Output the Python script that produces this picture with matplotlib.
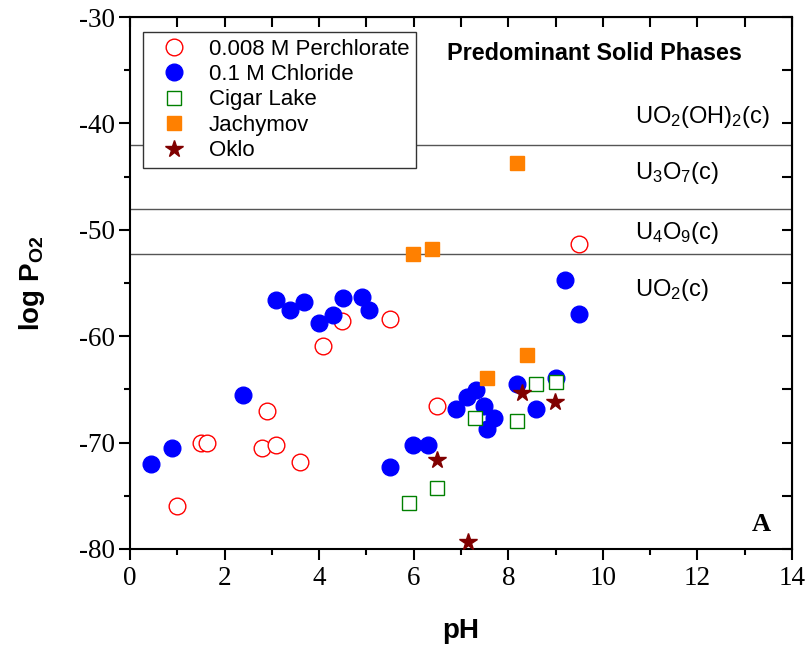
import matplotlib
matplotlib.use("Agg")
import matplotlib.pyplot as plt
from matplotlib.ticker import MultipleLocator

plt.rcParams["mathtext.fontset"] = "custom"
plt.rcParams["mathtext.rm"] = "Liberation Sans"
plt.rcParams["mathtext.it"] = "Liberation Sans:italic"
plt.rcParams["mathtext.bf"] = "Liberation Sans:bold"
plt.rcParams["axes.unicode_minus"] = False

# pH and log P_O2 for each data set
perchlorate_ph = [1.0, 1.5, 1.63, 2.79, 2.89, 3.09, 3.59, 4.09, 4.49, 5.5, 6.49, 9.49]
perchlorate_po2 = [-76.0, -70.0, -70.0, -70.5, -67.0, -70.2, -71.8, -60.9, -58.6, -58.4, -66.6, -51.3]

chloride_ph = [0.44, 0.89, 2.39, 3.09, 3.39, 3.69, 4.0, 4.29, 4.5, 4.9, 5.05, 5.5,
               5.99, 6.31, 6.89, 7.13, 7.31, 7.49, 7.7, 7.54, 8.19, 9.0, 8.59, 9.2, 9.5]
chloride_po2 = [-72.0, -70.5, -65.5, -56.6, -57.5, -56.8, -58.8, -58.0, -56.4, -56.3, -57.5, -72.3,
                -70.2, -70.2, -66.8, -65.7, -65.1, -66.6, -67.7, -68.7, -64.5, -63.9, -66.8, -54.7, -57.9]

cigar_ph = [5.89, 6.5, 7.3, 8.19, 8.59, 9.0]
cigar_po2 = [-75.7, -74.3, -67.7, -68.0, -64.5, -64.3]

jachymov_ph = [8.19, 5.99, 6.39, 8.39, 7.55]
jachymov_po2 = [-43.7, -52.3, -51.8, -61.8, -63.9]

oklo_ph = [6.5, 7.14, 8.29, 8.99]
oklo_po2 = [-71.6, -79.3, -65.3, -66.2]

# Phase boundaries and the solid phase stable in each field
boundaries = [-42.0, -48.0, -52.3]
phase_labels = [r"UO$_2$(OH)$_2$(c)", r"U$_3$O$_7$(c)", r"U$_4$O$_9$(c)", r"UO$_2$(c)"]
phase_label_y = [-39.4, -44.7, -50.3, -55.7]

fig = plt.figure(figsize=(8.06, 6.54), dpi=100)
ax = fig.add_axes([0.1613, 0.1606, 0.8213, 0.8134])

for yb in boundaries:
    ax.axhline(yb, color="#555555", lw=1.0, zorder=1)

ax.plot(perchlorate_ph, perchlorate_po2, ls="none", marker="o", ms=12, mfc="white",
        mec="#ff0000", mew=1.0, label="0.008 M Perchlorate", zorder=3)
ax.plot(chloride_ph, chloride_po2, ls="none", marker="o", ms=12, mfc="#0000ff",
        mec="#0000ff", label="0.1 M Chloride", zorder=3)
ax.plot(cigar_ph, cigar_po2, ls="none", marker="s", ms=10, mfc="white",
        mec="#008000", mew=1.0, label="Cigar Lake", zorder=4)
ax.plot(jachymov_ph, jachymov_po2, ls="none", marker="s", ms=10, mfc="#ff8000",
        mec="#ff8000", label="Jachymov", zorder=4)
ax.plot(oklo_ph, oklo_po2, ls="none", marker="*", ms=13, mfc="#800000",
        mec="#800000", label="Oklo", zorder=5)

ax.set_xlim(0, 14)
ax.set_ylim(-80, -30)
ax.xaxis.set_major_locator(MultipleLocator(2))
ax.xaxis.set_minor_locator(MultipleLocator(1))
ax.yaxis.set_major_locator(MultipleLocator(10))
ax.yaxis.set_minor_locator(MultipleLocator(5))
ax.tick_params(which="major", direction="out", length=8, width=1.5,
               labelsize=19.5)
ax.tick_params(axis="x", which="major", pad=4)
ax.tick_params(axis="y", which="major", pad=3)
ax.tick_params(which="minor", direction="out", length=4, width=1.5)
for lab in ax.get_xticklabels() + ax.get_yticklabels():
    lab.set_fontfamily("Liberation Serif")

for sp in ax.spines.values():
    sp.set_linewidth(1.5)

# mirrored inward ticks on the top and right edges
top = ax.secondary_xaxis("top")
top.xaxis.set_major_locator(MultipleLocator(1))
top.tick_params(direction="in", length=7, width=1.5, labeltop=False)
right = ax.secondary_yaxis("right")
right.yaxis.set_major_locator(MultipleLocator(5))
right.tick_params(direction="in", length=7, width=1.5, labelright=False)

ax.set_xlabel("pH", fontsize=20, fontweight="bold", family="Liberation Sans", labelpad=20)
ax.set_ylabel(r"log P$_{\mathbf{O2}}$", fontsize=20, fontweight="bold",
              family="Liberation Sans", labelpad=23)

ax.text(9.83, -33.4, "Predominant Solid Phases", fontsize=16.8, fontweight="bold",
        family="Liberation Sans", ha="center", va="center")
for lbl, yy in zip(phase_labels, phase_label_y):
    ax.text(10.68, yy, lbl, fontsize=17, family="Liberation Sans", ha="left", va="center")

ax.text(13.36, -77.7, "A", fontsize=19, fontweight="bold", family="Liberation Serif",
        ha="center", va="center")

leg = ax.legend(loc="upper left", bbox_to_anchor=(0.0196, 0.972), frameon=True,
                fancybox=False, edgecolor="#333333", framealpha=1,
                prop={"family": "Liberation Sans", "size": 16},
                handlelength=2.2, handletextpad=0.45, labelspacing=0.2,
                borderpad=0.3, borderaxespad=0.0)
leg.get_frame().set_linewidth(1.0)

fig.savefig("out.png", dpi=100)
